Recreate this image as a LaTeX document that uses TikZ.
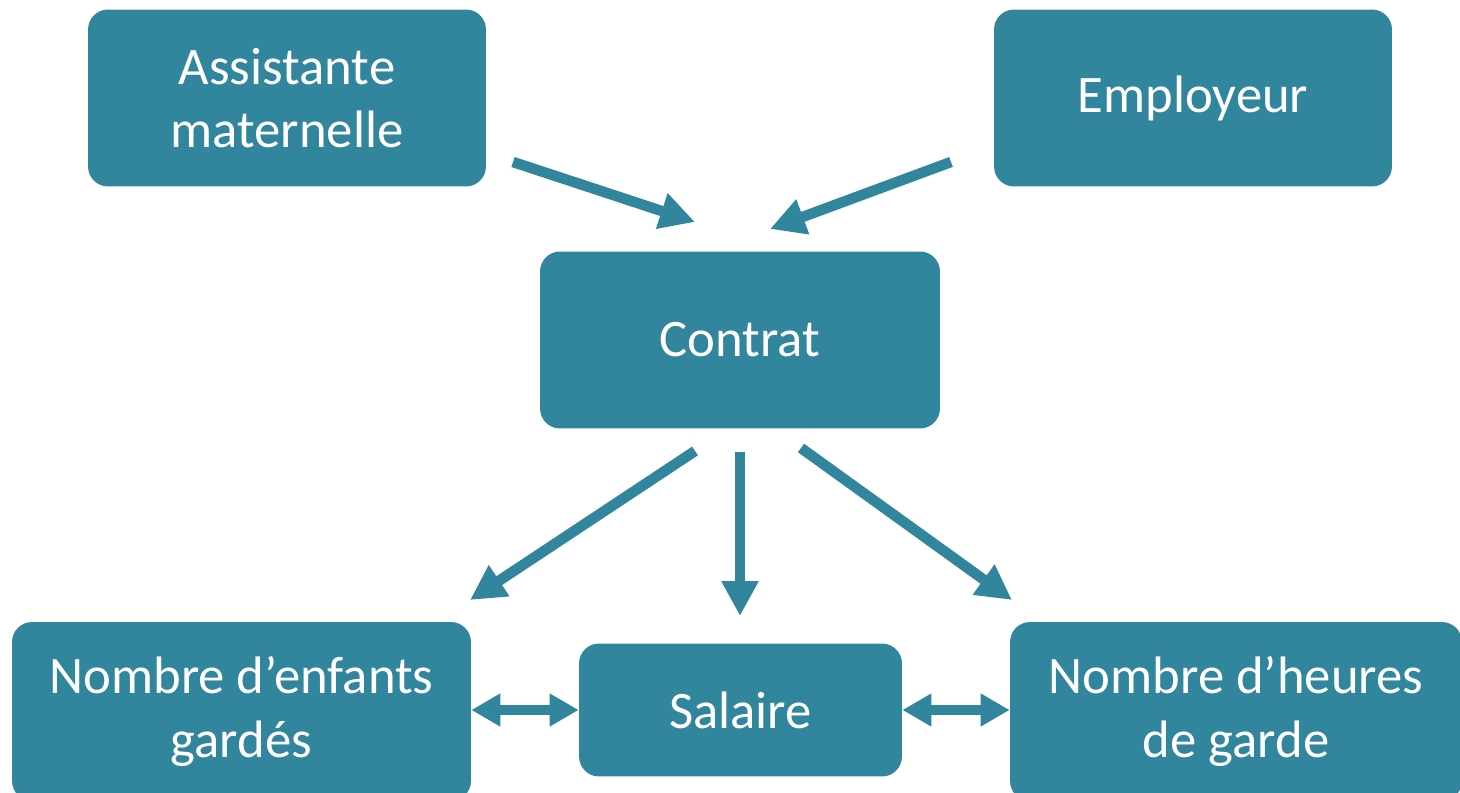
\documentclass[tikz,border=0pt]{standalone}
\usepackage{fontspec}
\setmainfont{Carlito}
\usetikzlibrary{arrows.meta}
\definecolor{teal}{HTML}{31859C}
\begin{document}
\begin{tikzpicture}[x=0.02cm,y=-0.02cm,
  box/.style={fill=teal, draw=none, rounded corners=0.4cm, text=white, align=center,
    font=\fontsize{30}{36}\selectfont, inner sep=0pt},
  arr/.style={draw=teal, line width=0.21cm, -{Triangle[length=0.7cm,width=0.7cm]}},
  darr/.style={draw=teal, line width=0.21cm, {Triangle[length=0.58cm,width=0.62cm]}-{Triangle[length=0.58cm,width=0.62cm]}}]
\useasboundingbox (0,0) rectangle (1460,793);
\clip (0,0) rectangle (1460,793);
\node[box, minimum width=7.96cm, minimum height=3.54cm] (assist) at (287,98) {Assistante\\maternelle};
\node[box, minimum width=7.96cm, minimum height=3.54cm] (empl) at (1193,98) {Employeur};
\node[box, minimum width=8cm, minimum height=3.54cm] (contrat) at (740,340) {Contrat};
\node[box, minimum width=9.18cm, minimum height=3.58cm] (enfants) at (241.5,711.5) {Nombre d’enfants\\gardés};
\node[box, minimum width=6.46cm, minimum height=2.66cm] (salaire) at (740.5,710) {Salaire};
\node[box, minimum width=9.04cm, minimum height=3.58cm] (heures) at (1236,711.5) {Nombre d’heures\\de garde};
\coordinate (a1s) at (513,162); \coordinate (a1e) at (695,222);
\coordinate (a2s) at (951,162); \coordinate (a2e) at (770,229);
\coordinate (a3s) at (695,451); \coordinate (a3e) at (470,600);
\coordinate (a4s) at (740,452); \coordinate (a4e) at (740,616);
\coordinate (a5s) at (801,448); \coordinate (a5e) at (1012,600);
\draw[arr] (a1s) -- (a1e);
\draw[arr] (a2s) -- (a2e);
\draw[arr] (a3s) -- (a3e);
\draw[arr] (a4s) -- (a4e);
\draw[arr] (a5s) -- (a5e);
\draw[darr] (enfants.east |- salaire.west) -- (salaire.west);
\draw[darr] (salaire.east) -- (heures.west |- salaire.east);
\end{tikzpicture}
\end{document}
